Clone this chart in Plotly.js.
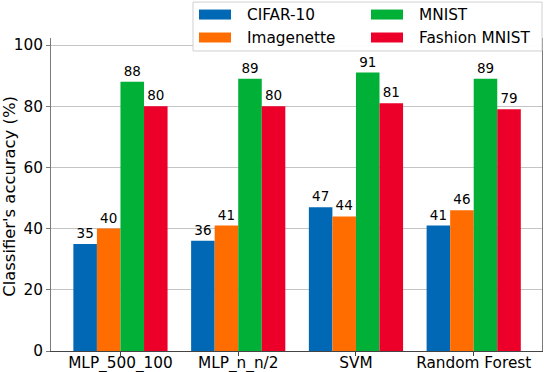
<!DOCTYPE html>
<html>
<head>
<meta charset="utf-8">
<script src="https://cdn.plot.ly/plotly-3.0.1.min.js"></script>
<style>
  html, body { margin: 0; padding: 0; background: #fff; }
  #chart { width: 544px; height: 372px; }
</style>
</head>
<body>
<div id="chart"></div>
<script>
// categorias e valores
var classifiers = ['MLP_500_100', 'MLP_n_n/2', 'SVM', 'Random Forest'];
var seriesNames = ['CIFAR-10', 'Imagenette', 'MNIST', 'Fashion MNIST'];
var seriesColors = ['#0068b5', '#ff6c00', '#00b037', '#ec0029'];
var cifar = [35, 36, 47, 41];
var imagenette = [40, 41, 44, 46];
var mnist = [88, 89, 91, 89];
var fashion = [80, 80, 81, 79];
var yTicks = [0, 20, 40, 60, 80, 100];

var seriesValues = [cifar, imagenette, mnist, fashion];
var FONT = 'DejaVu Sans, sans-serif';

// área do gráfico em pixels
var L = 51, R = 542, T = 38, B = 351.5;
function px(x) { return (x - L) / (R - L); }
function py(y) { return (B - y) / (B - T); }

var data = seriesNames.map(function (name, i) {
  return {
    type: 'bar',
    name: name,
    x: classifiers,
    y: seriesValues[i],
    marker: { color: seriesColors[i], line: { width: 0 } },
    text: seriesValues[i].map(String),
    textposition: 'outside',
    textfont: { family: FONT, size: 13.5, color: '#000' },
    cliponaxis: false,
    showlegend: false
  };
});

// legenda desenhada à mão (2 colunas, retângulos largos)
var shapes = [{
  type: 'rect', xref: 'paper', yref: 'paper',
  x0: px(193), x1: px(542), y0: py(51), y1: py(2),
  fillcolor: 'rgba(255,255,255,0.95)', line: { color: '#d0d0d0', width: 1 },
  layer: 'above'
}];
var annotations = [];
var colSwatch = [199, 371], colText = [245, 417], rowY = [14.5, 37.5];
seriesNames.forEach(function (name, i) {
  var c = Math.floor(i / 2), r = i % 2;
  shapes.push({
    type: 'rect', xref: 'paper', yref: 'paper',
    x0: px(colSwatch[c]), x1: px(colSwatch[c] + 32),
    y0: py(rowY[r] + 5), y1: py(rowY[r] - 5),
    fillcolor: seriesColors[i], line: { width: 0 }, layer: 'above'
  });
  annotations.push({
    xref: 'paper', yref: 'paper', x: px(colText[c]), y: py(rowY[r]),
    xanchor: 'left', yanchor: 'middle', showarrow: false,
    text: name, font: { family: FONT, size: 15.3, color: '#000' }
  });
});

// título do eixo y
annotations.push({
  xref: 'paper', yref: 'paper', x: px(10), y: py(197),
  xanchor: 'center', yanchor: 'middle', showarrow: false, textangle: -90,
  text: "Classifier's accuracy (%)", font: { family: FONT, size: 16.4, color: '#000' }
});

var layout = {
  width: 544,
  height: 372,
  margin: { l: L, r: 544 - R, t: T, b: 372 - B },
  paper_bgcolor: '#fff',
  plot_bgcolor: '#fff',
  barmode: 'group',
  bargap: 0.2,
  bargroupgap: 0,
  showlegend: false,
  font: { family: FONT, size: 15.3, color: '#000' },
  xaxis: {
    type: 'category',
    range: [-0.59, 3.58],
    showgrid: false,
    showline: true, linecolor: '#444', linewidth: 1,
    ticks: 'outside', ticklen: 4, tickcolor: '#444',
    ticklabelstandoff: -6,
    tickfont: { family: FONT, size: 15.3, color: '#000' },
    zeroline: false
  },
  yaxis: {
    range: [0, 102.3],
    tickvals: yTicks,
    showgrid: true, gridcolor: '#c4c4c4', gridwidth: 1,
    showline: true, mirror: true, linecolor: '#7a7a7a', linewidth: 1,
    ticks: 'outside', ticklen: 4, tickcolor: '#7a7a7a',
    tickfont: { family: FONT, size: 15.3, color: '#000' },
    zeroline: false
  },
  shapes: shapes,
  annotations: annotations
};

Plotly.newPlot('chart', data, layout, { displayModeBar: false, staticPlot: true });
</script>
</body>
</html>
